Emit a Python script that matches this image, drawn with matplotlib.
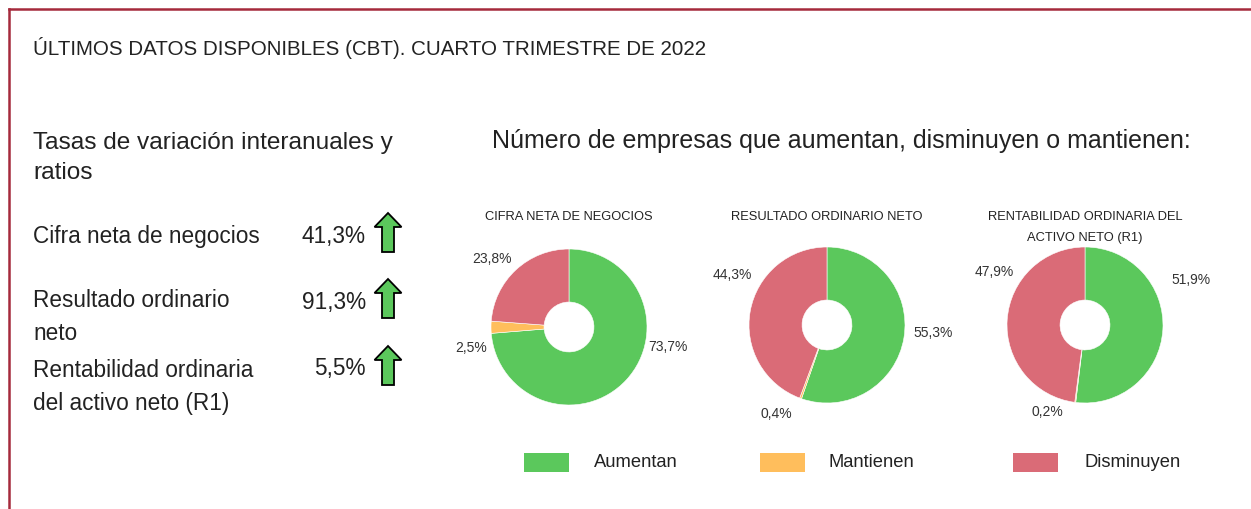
import matplotlib.pyplot as plt
from matplotlib.patches import Rectangle, FancyArrow
from matplotlib.lines import Line2D

W, H = 1251, 509

# --- datos ---
indicadores = ["Cifra neta de negocios", "Resultado ordinario\nneto",
               "Rentabilidad ordinaria\ndel activo neto (R1)"]
tasas = [41.3, 91.3, 5.5]

titulos_pie = ["CIFRA NETA DE NEGOCIOS", "RESULTADO ORDINARIO NETO",
               "RENTABILIDAD ORDINARIA DEL\nACTIVO NETO (R1)"]
categorias = ["Aumentan", "Mantienen", "Disminuyen"]
aumentan = [73.7, 55.3, 51.9]
mantienen = [2.5, 0.4, 0.2]
disminuyen = [23.8, 44.3, 47.9]

colores = ["#5BC85C", "#FFBE5C", "#DA6B77"]
borde = "#A52A3C"

plt.rcParams["font.family"] = ["Liberation Sans", "DejaVu Sans"]

fig = plt.figure(figsize=(W / 100, H / 100), dpi=100)

# capa de fondo en pixeles
bg = fig.add_axes([0, 0, 1, 1])
bg.set_xlim(0, W)
bg.set_ylim(H, 0)
bg.axis("off")

# marco
bg.add_line(Line2D([8.5, W], [8.5, 8.5], color=borde, lw=1.8))
bg.add_line(Line2D([8.5, 8.5], [8.5, H], color=borde, lw=1.8))

txt = "#222222"
bg.text(33, 48, "ÚLTIMOS DATOS DISPONIBLES (CBT). CUARTO TRIMESTRE DE 2022",
        fontsize=14.8, color=txt, va="center", ha="left")
bg.text(33, 158, "Tasas de variación interanuales y\nratios", fontsize=17.6,
        color=txt, va="center", ha="left", linespacing=1.45)
bg.text(492, 141, "Número de empresas que aumentan, disminuyen o mantienen:",
        fontsize=18, color=txt, va="center", ha="left")

# indicadores de la izquierda
ys = [236, 317, 387]
ys_val = [236, 302, 369]
ys_arrow = [252, 318, 385]
for nombre, v, y, yv, ya in zip(indicadores, tasas, ys, ys_val, ys_arrow):
    bg.text(33, y, nombre, fontsize=16.3, color=txt, va="center", ha="left",
            linespacing=1.55)
    bg.text(366, yv, f"{v:.1f}%".replace(".", ","), fontsize=16.3, color=txt,
            va="center", ha="right")
    if v > 0:
        bg.add_patch(FancyArrow(388, ya, 0, -39, width=12, head_width=27,
                                head_length=14, length_includes_head=True,
                                fc="#5BC85C", ec="black", lw=1.3))

# donuts
centros = [(569, 327), (827, 325), (1085, 325)]
radio = 78
pos_etq = [
    [(1.27, -0.26), (-1.26, -0.27), (-0.99, 0.87)],
    [(1.36, -0.10), (-0.65, -1.14), (-1.22, 0.64)],
    [(1.36, 0.58), (-0.48, -1.12), (-1.16, 0.68)],
]
for i, (cx, cy) in enumerate(centros):
    lado = 4 * radio
    ax = fig.add_axes([(cx - lado / 2) / W, (H - cy - lado / 2) / H, lado / W, lado / H])
    vals = [aumentan[i], mantienen[i], disminuyen[i]]
    ax.pie(vals, colors=colores, startangle=90, counterclock=False,
           wedgeprops=dict(width=0.68, edgecolor="white", linewidth=0.4))
    ax.set_xlim(-2, 2)
    ax.set_ylim(-2, 2)
    ax.set_aspect("equal")
    ax.axis("off")
    for v, (px, py) in zip(vals, pos_etq[i]):
        ax.text(px, py, f"{v:.1f}%".replace(".", ","), fontsize=10,
                color="#333333", ha="center", va="center")
    tlines = titulos_pie[i].count("\n")
    bg.text(cx, 217 + 10.5 * tlines, titulos_pie[i], fontsize=9.3,
            color="#222222", ha="center", va="center", linespacing=1.95)

# leyenda
leg_x = [524, 760, 1013]
leg_tx = [594, 829, 1085]
for c, col, x, tx in zip(categorias, colores, leg_x, leg_tx):
    bg.add_patch(Rectangle((x, 453), 45, 19, color=col, lw=0))
    bg.text(tx, 462.5, c, fontsize=13.2, color=txt, va="center", ha="left")

fig.savefig("out.png", dpi=100)
